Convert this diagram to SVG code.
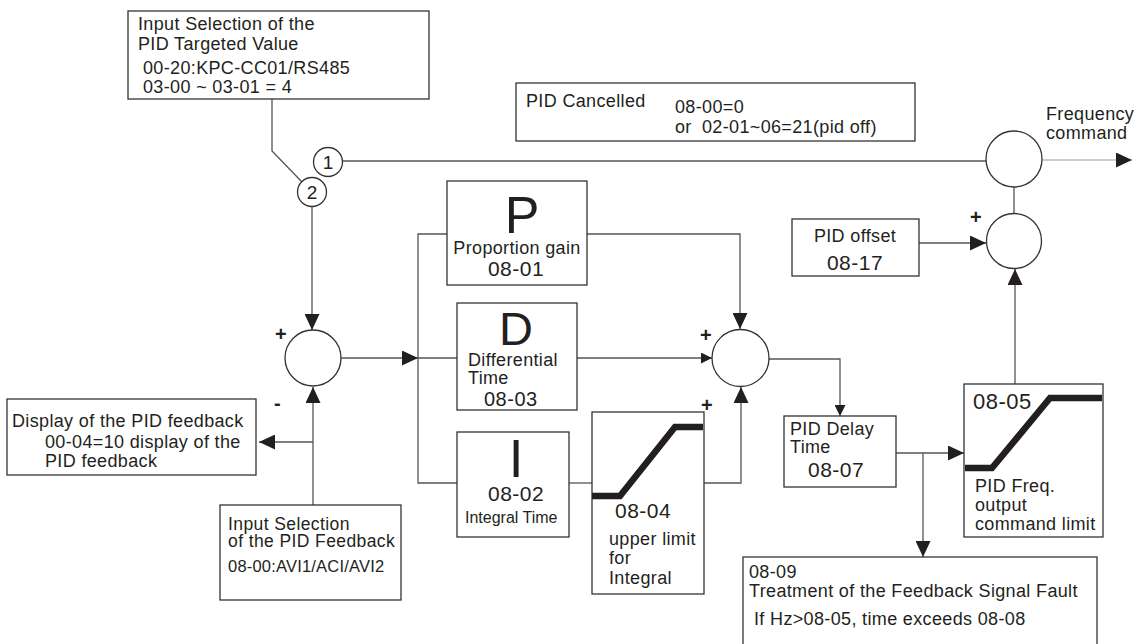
<svg xmlns="http://www.w3.org/2000/svg" width="1141" height="644" viewBox="0 0 1141 644">
<style>
.bx{fill:#fff;stroke:#333;stroke-width:1.3}
.cr{fill:#fff;stroke:#333;stroke-width:1.3}
.ln{fill:none;stroke:#555;stroke-width:1.3}
.th{fill:none;stroke:#231f20;stroke-width:6.5;stroke-linejoin:miter}
text{font-family:"Liberation Sans",Arial,sans-serif;fill:#231f20}
.t{font-size:18px;letter-spacing:0.35px}
.n{font-size:21px;letter-spacing:0.5px}
.s{font-size:16px}
.pl{font-size:20px;font-weight:bold}
.big{font-size:52px}
</style>
<defs>
<marker id="ah" markerUnits="userSpaceOnUse" markerWidth="16" markerHeight="15" refX="16" refY="7.5" orient="auto">
<path d="M0,0 L16,7.5 L0,15 z" fill="#231f20"/>
</marker>
<marker id="ahs" markerUnits="userSpaceOnUse" markerWidth="11" markerHeight="11" refX="11" refY="5.5" orient="auto">
<path d="M0,0 L11,5.5 L0,11 z" fill="#231f20"/>
</marker>
</defs>
<rect width="1141" height="644" fill="#fff"/>

<g id="connectors">
<polyline class="ln" points="272,99 272,151 302,182"/>
<line class="ln" x1="342" y1="161" x2="986" y2="161"/>
<line x1="1042" y1="160" x2="1132" y2="160" stroke="#999" stroke-width="1.2" marker-end="url(#ah)"/>
<line class="ln" x1="1014" y1="187" x2="1014" y2="214"/>
<line class="ln" x1="919" y1="243" x2="986" y2="243" marker-end="url(#ah)"/>
<line class="ln" x1="1015" y1="384" x2="1015" y2="269" marker-end="url(#ah)"/>
<line class="ln" x1="312" y1="206" x2="312" y2="330" marker-end="url(#ah)"/>
<line class="ln" x1="313" y1="505" x2="313" y2="387" marker-end="url(#ah)"/>
<line class="ln" x1="313" y1="442" x2="259" y2="442" marker-end="url(#ah)"/>
<line class="ln" x1="341" y1="358" x2="418" y2="358" marker-end="url(#ah)"/>
<polyline class="ln" points="447,234 418,234 418,483 457,483"/>
<line class="ln" x1="418" y1="358" x2="457" y2="358"/>
<polyline class="ln" points="587,234 740,234 740,329" marker-end="url(#ah)"/>
<line class="ln" x1="577" y1="358" x2="712" y2="358" marker-end="url(#ahs)"/>
<line class="ln" x1="569" y1="483" x2="592" y2="483"/>
<polyline class="ln" points="704,483 741,483 741,387" marker-end="url(#ah)"/>
<polyline class="ln" points="769,359 840,359 840,416" marker-end="url(#ahs)"/>
<line class="ln" x1="896" y1="453" x2="964" y2="453" marker-end="url(#ah)"/>
<line class="ln" x1="923" y1="453" x2="923" y2="557" marker-end="url(#ah)"/>
<text class="pl" x="275" y="341">+</text>
<text class="pl" x="274" y="410">-</text>
<text class="pl" x="700" y="342">+</text>
<text class="pl" x="701" y="412">+</text>
<text class="pl" x="970" y="224">+</text>
</g>

<g id="target">
<rect class="bx" x="128" y="11" width="301" height="88"/>
<text class="t" x="138" y="30">Input Selection of the</text>
<text class="t" x="138" y="50">PID Targeted Value</text>
<text class="t" x="143" y="74">00-20:KPC-CC01/RS485</text>
<text class="t" x="143" y="93">03-00 ~ 03-01 = 4</text>
</g>

<g id="cancelled">
<rect class="bx" x="516" y="83" width="399" height="58"/>
<text class="t" x="526" y="107">PID Cancelled</text>
<text class="t" x="675" y="113">08-00=0</text>
<text class="t" x="675" y="133">or</text>
<text class="t" x="702" y="133">02-01~06=21(pid off)</text>
</g>

<g id="sw1">
<circle class="cr" cx="328" cy="162" r="14.5"/>
<text x="328" y="169" font-size="19" text-anchor="middle">1</text>
</g>
<g id="sw2">
<circle class="cr" cx="312" cy="192" r="14.5"/>
<text x="312" y="199" font-size="19" text-anchor="middle">2</text>
</g>

<g id="freq">
<circle class="cr" cx="1014" cy="159" r="28"/>
<text class="t" x="1046" y="120">Frequency</text>
<text class="t" x="1046" y="139">command</text>
</g>

<g id="offsetsum">
<circle class="cr" cx="1014" cy="241" r="27.5"/>
</g>

<g id="offset">
<rect class="bx" x="792" y="219" width="127" height="57"/>
<text class="t" x="855" y="242" text-anchor="middle">PID offset</text>
<text class="n" x="855" y="270" text-anchor="middle">08-17</text>
</g>

<g id="sum1">
<circle class="cr" cx="313" cy="358" r="28"/>
</g>

<g id="sum2">
<circle class="cr" cx="740.5" cy="358" r="28.5"/>
</g>

<g id="pbox">
<rect class="bx" x="447" y="181" width="140" height="104"/>
<text class="big" x="522" y="233" text-anchor="middle">P</text>
<text class="t" x="517" y="254" text-anchor="middle">Proportion gain</text>
<text class="n" x="516" y="276" text-anchor="middle">08-01</text>
</g>

<g id="dbox">
<rect class="bx" x="457" y="303" width="120" height="107"/>
<text x="516" y="345" font-size="47" text-anchor="middle">D</text>
<text class="t" x="468" y="366">Differential</text>
<text class="t" x="468" y="384">Time</text>
<text x="484" y="406" font-size="20" letter-spacing="0.5">08-03</text>
</g>

<g id="ibox">
<rect class="bx" x="457" y="432" width="112" height="105"/>
<text x="516" y="477" font-size="53" text-anchor="middle">I</text>
<text class="n" x="488" y="501">08-02</text>
<text class="s" x="465" y="523">Integral Time</text>
</g>

<g id="ilimit">
<rect class="bx" x="592" y="412" width="112" height="182"/>
<polyline class="th" points="592,496 620,496 675,427 703,427"/>
<text class="n" x="615" y="518">08-04</text>
<text class="t" x="609" y="545">upper limit</text>
<text class="t" x="609" y="564">for</text>
<text class="t" x="609" y="584">Integral</text>
</g>

<g id="delay">
<rect class="bx" x="784" y="416" width="112" height="71"/>
<text class="t" x="790" y="435">PID Delay</text>
<text class="t" x="790" y="453">Time</text>
<text class="n" x="808" y="477">08-07</text>
</g>

<g id="flimit">
<rect class="bx" x="964" y="384" width="139" height="153"/>
<polyline class="th" points="965,468 992,468 1050,398 1102,398"/>
<text x="973" y="409" font-size="22" letter-spacing="0.5">08-05</text>
<text class="t" x="975" y="492">PID Freq.</text>
<text class="t" x="975" y="511">output</text>
<text class="t" x="975" y="530">command limit</text>
</g>

<g id="fault">
<rect class="bx" x="743" y="557" width="354" height="100"/>
<text class="t" x="749" y="578">08-09</text>
<text class="t" x="749" y="597">Treatment of the Feedback Signal Fault</text>
<text class="t" x="754" y="625">If Hz&gt;08-05, time exceeds 08-08</text>
</g>

<g id="display">
<rect class="bx" x="7" y="399" width="249" height="76"/>
<text class="t" x="12" y="427">Display of the PID feedback</text>
<text class="t" x="45" y="448">00-04=10 display of the</text>
<text class="t" x="45" y="467">PID feedback</text>
</g>

<g id="feedback">
<rect class="bx" x="220" y="505" width="181" height="95"/>
<text x="228" y="530" font-size="17.5" letter-spacing="0.4">Input Selection</text>
<text x="228" y="547" font-size="17.5" letter-spacing="0.4">of the PID Feedback</text>
<text x="228" y="572" font-size="16.5" letter-spacing="0.2">08-00:AVI1/ACI/AVI2</text>
</g>
</svg>
